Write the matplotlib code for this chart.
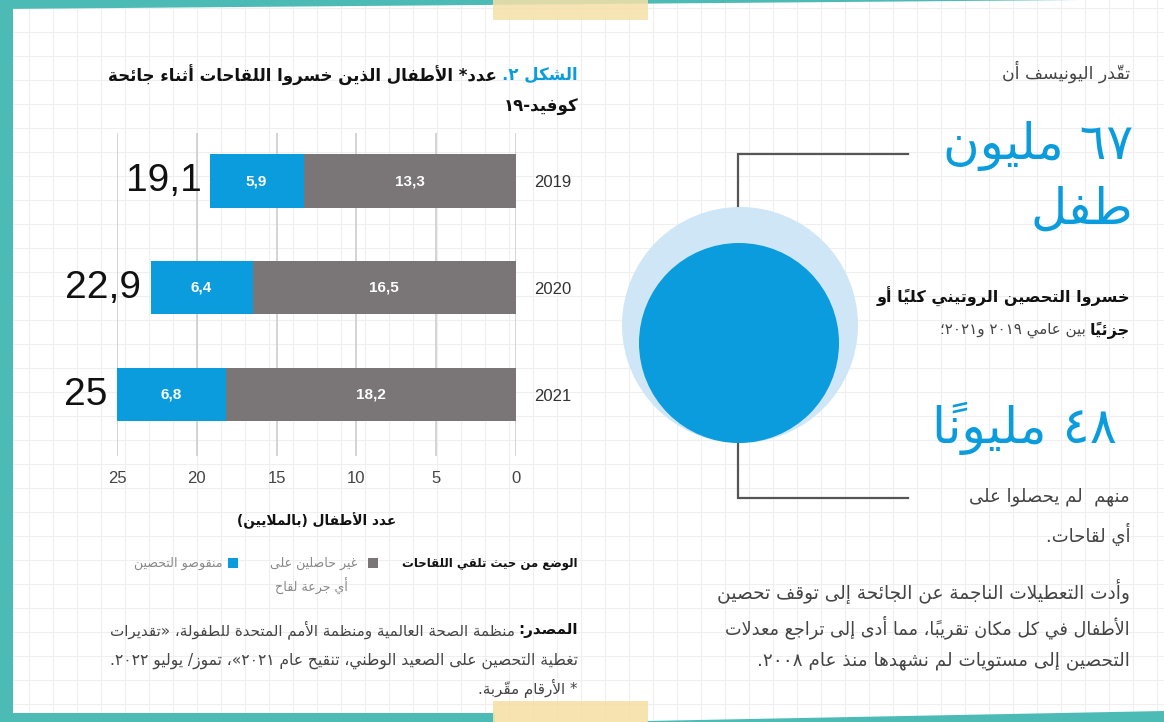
import matplotlib
matplotlib.use("Agg")
import matplotlib.pyplot as plt
from matplotlib.patches import Rectangle, Circle, Polygon

# ---------------- data ----------------
years = ["2019", "2020", "2021"]
zero_dose = [13.3, 16.5, 18.2]      # غير حاصلين على أي جرعة لقاح
under_vacc = [5.9, 6.4, 6.8]        # منقوصو التحصين
totals = [19.1, 22.9, 25.0]
xticks = [0, 5, 10, 15, 20, 25]

title_a = "الشكل ٢."
title_b = "عدد* الأطفال الذين خسروا اللقاحات أثناء جائحة"
title_2 = "كوفيد-١٩"
xlabel_txt = "عدد الأطفال (بالملايين)"
legend_title = "الوضع من حيث تلقي اللقاحات"
legend_zero = ["غير حاصلين على", "أي جرعة لقاح"]
legend_under = "منقوصو التحصين"
source_a = "المصدر:"
source_b = "منظمة الصحة العالمية ومنظمة الأمم المتحدة للطفولة، «تقديرات"
source_2 = "تغطية التحصين على الصعيد الوطني، تنقيح عام ٢٠٢١»، تموز/ يوليو ٢٠٢٢."
note_txt = "* الأرقام مقرّبة."

r_intro = "تقدّر اليونيسف أن"
big1 = ["٦٧ مليون", "طفل"]
r_bold1 = "خسروا التحصين الروتيني كلياً أو"
r_bold2 = "جزئياً"
r_reg2 = "بين عامي ٢٠١٩ و٢٠٢١؛"
big2 = "٤٨ مليوناً"
r_lines = ["منهم  لم يحصلوا على", "أي لقاحات."]
para = ["وأدت التعطيلات الناجمة عن الجائحة إلى توقف تحصين",
        "الأطفال في كل مكان تقريباً، مما أدى إلى تراجع معدلات",
        "التحصين إلى مستويات لم نشهدها منذ عام ٢٠٠٨."]

# ---------------- colours ----------------
BLUE = "#0B9CDD"
GRAY = "#7A7576"
LIGHT = "#CFE6F6"
TEAL = "#4DBBB5"
YELLOW = "#F6E0A8"

# ---------------- minimal Arabic shaping + bidi ----------------
_R = {'\u0622': 0xFE81, '\u0623': 0xFE83, '\u0624': 0xFE85, '\u0625': 0xFE87,
      '\u0627': 0xFE8D, '\u0629': 0xFE93, '\u062F': 0xFEA9, '\u0630': 0xFEAB,
      '\u0631': 0xFEAD, '\u0632': 0xFEAF, '\u0648': 0xFEED, '\u0649': 0xFEEF}
_D = {'\u0626': 0xFE89, '\u0628': 0xFE8F, '\u062A': 0xFE95, '\u062B': 0xFE99,
      '\u062C': 0xFE9D, '\u062D': 0xFEA1, '\u062E': 0xFEA5, '\u0633': 0xFEB1,
      '\u0634': 0xFEB5, '\u0635': 0xFEB9, '\u0636': 0xFEBD, '\u0637': 0xFEC1,
      '\u0638': 0xFEC5, '\u0639': 0xFEC9, '\u063A': 0xFECD, '\u0641': 0xFED1,
      '\u0642': 0xFED5, '\u0643': 0xFED9, '\u0644': 0xFEDD, '\u0645': 0xFEE1,
      '\u0646': 0xFEE5, '\u0647': 0xFEE9, '\u064A': 0xFEF1}
_LA = {'\u0622': 0xFEF5, '\u0623': 0xFEF7, '\u0625': 0xFEF9, '\u0627': 0xFEFB}
_U = {'\u0621': 0xFE80}
_MARKS = set(chr(c) for c in range(0x064B, 0x0653)) | {'\u0670'}
_MIRROR = {'(': ')', ')': '(', '«': '»', '»': '«'}


def _jt(c):
    if len(c) == 3 and c[:2] == 'LA':
        return 'R'
    if c in _D:
        return 'D'
    if c in _R:
        return 'R'
    if c in _U:
        return 'U'
    return None


def _shape(s):
    cl = []
    for ch in s:
        if ch in _MARKS and cl:
            cl[-1][1].append(ch)
        else:
            cl.append([ch, []])
    out = []
    i = 0
    while i < len(cl):
        c, m = cl[i]
        if c == '\u0644' and i + 1 < len(cl) and cl[i + 1][0] in _LA:
            out.append(['LA' + cl[i + 1][0], m + cl[i + 1][1]])
            i += 2
        else:
            out.append([c, m])
            i += 1
    res = []
    for i, (c, m) in enumerate(out):
        t = _jt(c)
        if t is None:
            res.append((c, m))
            continue
        prev = _jt(out[i - 1][0]) if i > 0 else None
        nxt = _jt(out[i + 1][0]) if i + 1 < len(out) else None
        jp = prev == 'D' and t in ('D', 'R')
        jn = t == 'D' and nxt in ('D', 'R')
        if len(c) == 3 and c[:2] == 'LA':
            g = chr(_LA[c[2]] + (1 if jp else 0))
        elif t == 'U':
            g = chr(_U[c])
        elif t == 'R':
            g = chr(_R[c] + (1 if jp else 0))
        else:
            b = _D[c]
            g = chr(b + 3) if (jp and jn) else chr(b + 1) if jp else chr(b + 2) if jn else chr(b)
        res.append((g, m))
    return res


def ar(s):
    res = _shape(s)
    runs = []
    for g, m in res:
        l = g.isdigit() or ('A' <= g <= 'z')
        if runs and runs[-1][0] == l:
            runs[-1][1].append((g, m))
        else:
            runs.append([l, [(g, m)]])
    out = ''
    for l, items in reversed(runs):
        if not l:
            items = [(_MIRROR.get(g, g), m) for g, m in items[::-1]]
        out += ''.join(g + ''.join(m) for g, m in items)
    return out


# ---------------- figure ----------------
W, H = 1164, 722
fig = plt.figure(figsize=(W / 100, H / 100), dpi=100)
fig.patch.set_facecolor("white")
bg = fig.add_axes([0, 0, 1, 1], zorder=0)
bg.set_xlim(0, W)
bg.set_ylim(H, 0)
bg.axis("off")
renderer = fig.canvas.get_renderer()

# paper grid
step = 24
x = 5
while x < W:
    bg.plot([x, x], [0, H], color="#EFEFEF", lw=0.8, zorder=0)
    x += step
y = 8
while y < H:
    bg.plot([0, W], [y, y], color="#EFEFEF", lw=0.8, zorder=0)
    y += step

# borders
bg.add_patch(Rectangle((0, 0), 13, H, color=TEAL, lw=0, zorder=2))
bg.add_patch(Polygon([(0, 0), (1080, 0), (0, 9)], closed=True, color=TEAL, lw=0, zorder=2))
bg.add_patch(Rectangle((0, 713), 495, 9, color=TEAL, lw=0, zorder=2))
bg.add_patch(Polygon([(646, 721), (W, 711), (W, H), (646, H)], closed=True, color=TEAL, lw=0, zorder=2))
bg.add_patch(Rectangle((493, 0), 155, 20, color=YELLOW, alpha=0.85, lw=0, zorder=3))
bg.add_patch(Rectangle((493, 701), 155, 21, color=YELLOW, alpha=0.9, lw=0, zorder=3))

AR = ["DejaVu Sans"]


def rtl(x_right, y, segments, gap=5, width=None, ha="right"):
    """segments: list of (logical text, kwargs); first segment is rightmost.
    If width is given, font sizes are scaled so that the whole line spans it."""
    texts = [bg.text(0, y, ar(s), ha="right", va="center", zorder=5, **kw) for s, kw in segments]
    ws = [t.get_window_extent(renderer).width for t in texts]
    if width is not None:
        tot = sum(ws) + gap * (len(ws) - 1)
        sc = (width - gap * (len(ws) - 1)) / (tot - gap * (len(ws) - 1))
        for t in texts:
            t.set_fontsize(t.get_fontsize() * sc)
        ws = [t.get_window_extent(renderer).width for t in texts]
    tot = sum(ws) + gap * (len(ws) - 1)
    x = x_right if ha == "right" else x_right + tot / 2
    for t, w in zip(texts, ws):
        t.set_x(x)
        x -= w + gap
    return texts[0].get_fontsize()


# ---------------- left: title ----------------
fs_t = rtl(578, 75, [(title_a, dict(color=BLUE, fontsize=13, fontweight="bold", family=AR)),
                     (title_b, dict(color="#111111", fontsize=13, fontweight="bold", family=AR))],
           gap=6, width=471)
rtl(578, 107, [(title_2, dict(color="#111111", fontsize=fs_t, fontweight="bold", family=AR))])

# ---------------- left: bar chart ----------------
x0, x1 = 117, 516
ytop, ybot = 133, 456
ax = fig.add_axes([x0 / W, 1 - ybot / H, (x1 - x0) / W, (ybot - ytop) / H], zorder=1)
ax.patch.set_alpha(0)
pos = list(range(len(years)))
b1 = ax.barh(pos, zero_dose, height=0.5, color=GRAY, zorder=3)
b2 = ax.barh(pos, under_vacc, left=zero_dose, height=0.5, color=BLUE, zorder=3)
fmt = lambda v: (f"{v:.1f}".replace(".", ",")) if abs(v - round(v)) > 1e-9 else f"{int(round(v))}"
ax.bar_label(b1, labels=[fmt(v) for v in zero_dose], label_type="center",
             color="white", fontsize=11, fontweight="bold", family="Liberation Sans")
ax.bar_label(b2, labels=[fmt(v) for v in under_vacc], label_type="center",
             color="white", fontsize=11, fontweight="bold", family="Liberation Sans")
for p, t in zip(pos, totals):
    ax.annotate(fmt(t), xy=(t, p), xytext=(-7, 0), textcoords="offset points",
                ha="right", va="center", fontsize=28, color="#111111",
                family="Liberation Sans", clip_on=False)
ax.set_xlim(25, 0)
ax.set_ylim(2.576, -0.45)
ax.set_xticks(xticks)
ax.set_xticklabels([str(v) for v in xticks], family="Liberation Sans", fontsize=12, color="#444444")
ax.set_yticks(pos)
ax.set_yticklabels(years, family="Liberation Sans", fontsize=12, color="#333333")
ax.yaxis.tick_right()
ax.tick_params(axis="both", length=0)
ax.tick_params(axis="x", pad=11)
ax.tick_params(axis="y", pad=13)
ax.grid(axis="x", color="#C9C9C9", lw=1.1, zorder=0)
for sp in ax.spines.values():
    sp.set_visible(False)

rtl(317, 521, [(xlabel_txt, dict(color="#111111", fontsize=11.5, fontweight="bold", family=AR))],
    width=161, ha="center")

# legend
rtl(578, 563, [(legend_title, dict(color="#111111", fontsize=10.5, fontweight="bold", family=AR))], width=176)
bg.add_patch(Rectangle((368, 558), 10, 10, color=GRAY, lw=0, zorder=5))
fs_l = rtl(357, 563, [(legend_zero[0], dict(color="#888888", fontsize=10, family=AR))], width=88)
rtl(311, 586, [(legend_zero[1], dict(color="#888888", fontsize=fs_l, family=AR))], ha="center")
bg.add_patch(Rectangle((228, 558), 10, 10, color=BLUE, lw=0, zorder=5))
rtl(222, 563, [(legend_under, dict(color="#888888", fontsize=fs_l, family=AR))])

# source
fs_s = rtl(578, 630, [(source_a, dict(color="#111111", fontsize=11.5, fontweight="bold", family=AR)),
                      (source_b, dict(color="#444444", fontsize=11.5, family=AR))], gap=4, width=471)
rtl(578, 661, [(source_2, dict(color="#444444", fontsize=11.5, family=AR))], width=471)
rtl(578, 688, [(note_txt, dict(color="#444444", fontsize=fs_s, family=AR))])

# ---------------- right side ----------------
bg.add_patch(Circle((740, 325), 118, color=LIGHT, lw=0, zorder=3))
bg.add_patch(Circle((739, 343), 100, color=BLUE, lw=0, zorder=4))
bg.plot([908, 738, 738], [154, 154, 207], color="#555555", lw=1.6, zorder=2, solid_joinstyle="miter")
bg.plot([738, 738, 908], [443, 498, 498], color="#555555", lw=1.6, zorder=2, solid_joinstyle="miter")

rtl(1130, 72, [(r_intro, dict(color="#444444", fontsize=12.5, family=AR))])
fs_b = rtl(1133, 146, [(big1[0], dict(color=BLUE, fontsize=40, family=AR))], width=190)
rtl(1133, 210, [(big1[1], dict(color=BLUE, fontsize=fs_b, family=AR))])
fs_r = rtl(1130, 297, [(r_bold1, dict(color="#111111", fontsize=13, fontweight="bold", family=AR))], width=252)
rtl(1130, 330, [(r_bold2, dict(color="#111111", fontsize=fs_r, fontweight="bold", family=AR)),
                (r_reg2, dict(color="#444444", fontsize=fs_r * 0.95, family=AR))], gap=4)
rtl(1117, 428, [(big2, dict(color=BLUE, fontsize=fs_b, family=AR))], width=185)
for yy, s in zip([497, 535], r_lines):
    rtl(1130, yy, [(s, dict(color="#444444", fontsize=13, family=AR))])
for yy, s, wd in zip([591, 627, 661], para, [413, 403, 370]):
    rtl(1130, yy, [(s, dict(color="#444444", fontsize=13, family=AR))], width=wd)

fig.savefig("out.png", dpi=100)
